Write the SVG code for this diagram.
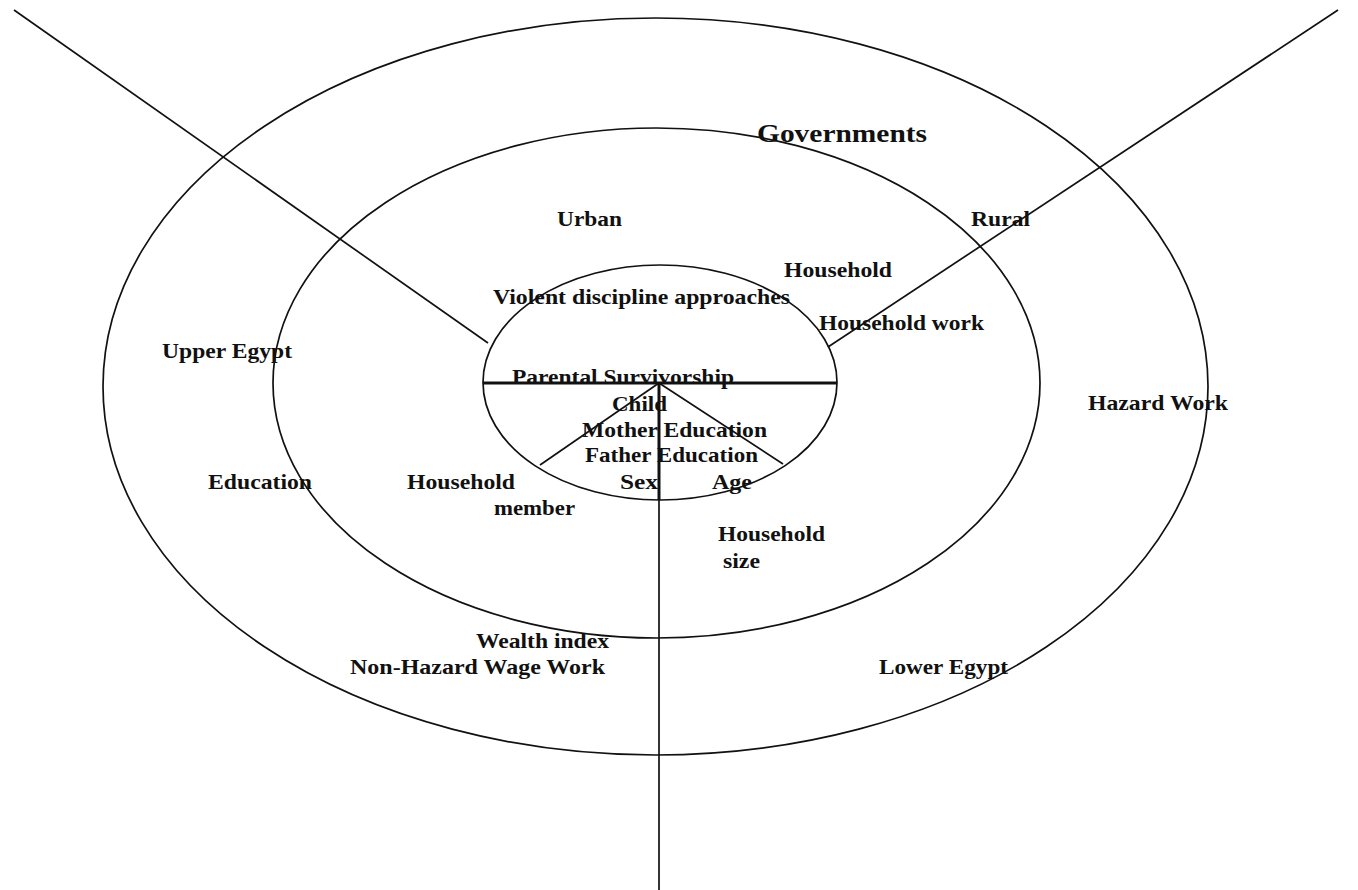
<svg xmlns="http://www.w3.org/2000/svg" width="1358" height="890" viewBox="0 0 1358 890">
<style>
.ring{fill:none;stroke:#111;stroke-width:1.7}
.ln{stroke:#111;stroke-width:1.7;fill:none}
.thick{stroke:#111;stroke-width:3;fill:none}
text{font-family:"Liberation Serif","Times New Roman",serif;font-weight:bold;font-size:22px;fill:#111}
.big{font-size:26px}
</style>
<rect width="1358" height="890" fill="#fff"/>
<g id="rings">
<ellipse id="outer" class="ring" cx="655.5" cy="386.5" rx="552.5" ry="368.5"/>
<ellipse id="middle" class="ring" cx="656.5" cy="383" rx="383.5" ry="255"/>
<ellipse id="inner" class="ring" cx="660" cy="382.5" rx="177" ry="117.5"/>
</g>
<g id="connectors">
<line class="ln" x1="14" y1="10" x2="488" y2="343"/>
<line class="ln" x1="1338" y1="10" x2="828" y2="347"/>
<line class="thick" x1="483" y1="383" x2="837" y2="383"/>
<line class="thick" x1="659" y1="383" x2="659" y2="500"/>
<line class="ln" x1="659" y1="500" x2="659" y2="890"/>
<line class="ln" x1="659" y1="383" x2="540" y2="465"/>
<line class="ln" x1="659" y1="383" x2="783" y2="464"/>
</g>
<g id="labels">
<text class="big" x="757" y="142" textLength="170" lengthAdjust="spacingAndGlyphs">Governments</text>
<text x="557" y="226" textLength="65" lengthAdjust="spacingAndGlyphs">Urban</text>
<text x="971" y="226" textLength="59" lengthAdjust="spacingAndGlyphs">Rural</text>
<text x="784" y="277" textLength="108" lengthAdjust="spacingAndGlyphs">Household</text>
<text x="493" y="304" textLength="297" lengthAdjust="spacingAndGlyphs">Violent discipline approaches</text>
<text x="819" y="330" textLength="165" lengthAdjust="spacingAndGlyphs">Household work</text>
<text x="162" y="358" textLength="130" lengthAdjust="spacingAndGlyphs">Upper Egypt</text>
<text x="512" y="384" textLength="222" lengthAdjust="spacingAndGlyphs">Parental Survivorship</text>
<text x="1088" y="410" textLength="140" lengthAdjust="spacingAndGlyphs">Hazard Work</text>
<text x="612" y="411" textLength="55" lengthAdjust="spacingAndGlyphs">Child</text>
<text x="582" y="437" textLength="185" lengthAdjust="spacingAndGlyphs">Mother Education</text>
<text x="585" y="462" textLength="173" lengthAdjust="spacingAndGlyphs">Father Education</text>
<text x="208" y="489" textLength="104" lengthAdjust="spacingAndGlyphs">Education</text>
<text x="407" y="489" textLength="108" lengthAdjust="spacingAndGlyphs">Household</text>
<text x="620" y="489" textLength="38" lengthAdjust="spacingAndGlyphs">Sex</text>
<text x="712" y="489" textLength="40" lengthAdjust="spacingAndGlyphs">Age</text>
<text x="494" y="515" textLength="81" lengthAdjust="spacingAndGlyphs">member</text>
<text x="718" y="541" textLength="107" lengthAdjust="spacingAndGlyphs">Household</text>
<text x="723" y="568" textLength="37" lengthAdjust="spacingAndGlyphs">size</text>
<text x="476" y="648" textLength="133" lengthAdjust="spacingAndGlyphs">Wealth index</text>
<text x="350" y="674" textLength="255" lengthAdjust="spacingAndGlyphs">Non-Hazard Wage Work</text>
<text x="879" y="674" textLength="129" lengthAdjust="spacingAndGlyphs">Lower Egypt</text>
</g>
</svg>
